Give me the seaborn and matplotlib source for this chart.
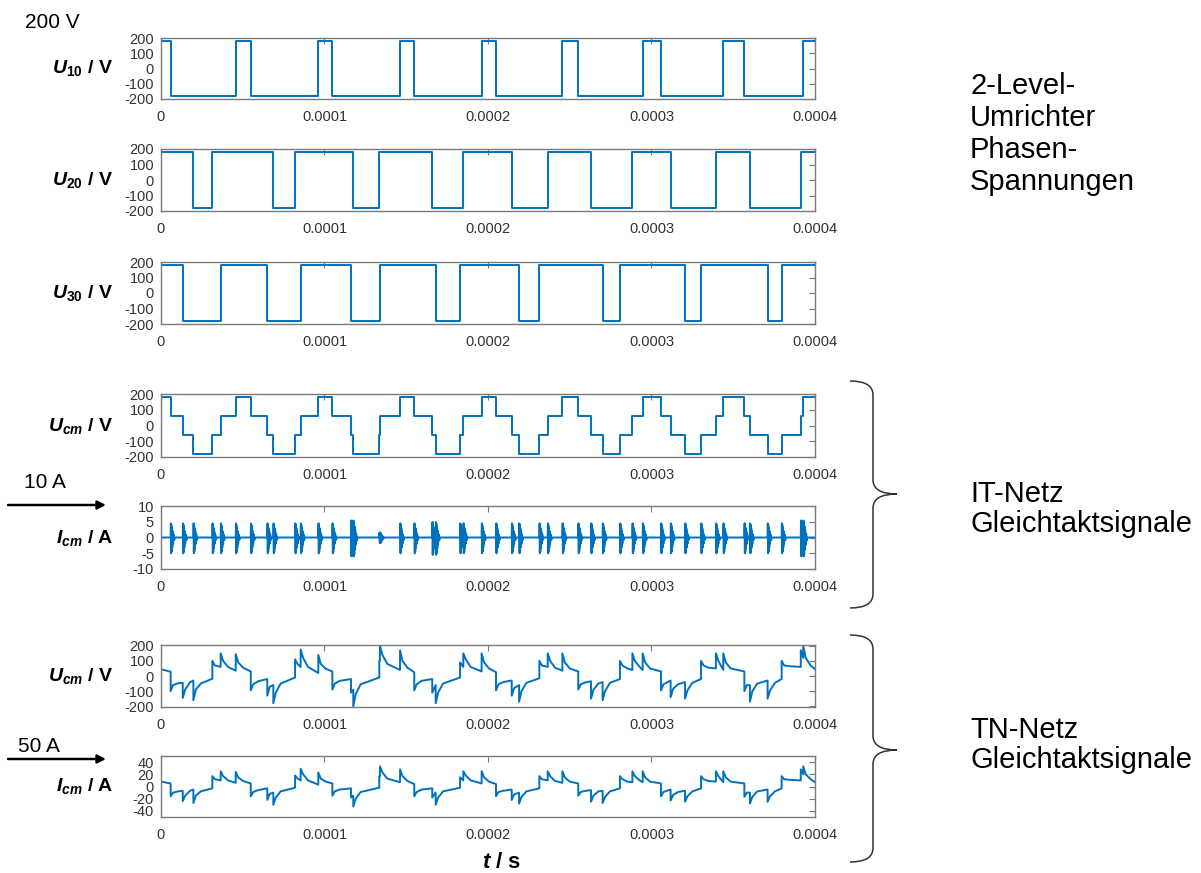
import numpy as np
import pandas as pd
import matplotlib
matplotlib.use("Agg")
import matplotlib.pyplot as plt
import seaborn as sns
from matplotlib.path import Path
from matplotlib.patches import PathPatch

sns.set_theme(style="white")
plt.rcParams['font.family'] = ['Liberation Sans', 'DejaVu Sans']
plt.rcParams['text.color'] = 'black'
plt.rcParams['mathtext.fontset'] = 'custom'
plt.rcParams['mathtext.it'] = 'Liberation Sans:italic:bold'
plt.rcParams['mathtext.rm'] = 'Liberation Sans:bold'
plt.rcParams['mathtext.bf'] = 'Liberation Sans:bold'

BLUE = '#0072BD'
FRAME = '#7a7a7a'
T_END = 400.0   # µs

# phase voltages: level +-180 V, switching instants in µs (start level high)
u_level = 180
u10_edges = [5.9, 45.7, 54.9, 96.2, 104.8, 146.2, 154.9, 196.1, 204.9, 245.5,
             255.2, 294.6, 305.8, 343.9, 356.8, 392.8]
u20_edges = [19.8, 31.4, 68.7, 82.0, 117.6, 133.5, 165.9, 184.9, 214.5, 236.5,
             263.0, 288.3, 311.7, 339.4, 360.2, 391.3]
u30_edges = [13.3, 36.5, 65.0, 85.4, 116.2, 133.9, 168.0, 182.9, 219.0, 231.4,
             270.1, 280.7, 320.5, 330.3, 371.0, 379.6]

# IT-Netz common mode current: ringing burst read from one event, amplitude per event
burst_dt = [0, 0.15, 0.3, 0.45, 0.6, 0.8, 1.0, 1.2, 1.5, 1.8, 2.2, 2.6]
burst_val = [0, 4.5, -5.0, 4.0, -4.5, 3.0, -3.2, 2.0, -2.0, 1.0, -0.8, 0]
it_amp = [1.0, 1.0, 1.0, 1.0, 1.0, 1.0,
          1.0, 1.0, 1.0, 1.0, 1.0, 1.0,
          1.0, 1.2, 1.2, 0.35, 0.35, 1.0,
          1.0, 1.1, 1.1, 1.0, 1.0, 1.0,
          1.0, 1.0, 1.0, 1.0, 1.0, 1.0,
          1.0, 1.0, 1.0, 1.0, 1.0, 1.0,
          1.0, 1.0, 1.0, 1.0, 1.0, 1.0,
          1.0, 1.0, 1.0, 1.0, 1.2, 1.2]

# TN-Netz common mode voltage: value before / after each switching event,
# then ~1.5 µs and ~4.5 µs later
tn_u0, tn_u_last = 45, 45
tn_u_pre = [28, -45, -30, -18, 60, 35,
            30, -20, -60, -10, 60, 20,
            30, -20, -90, -10, 100, 40,
            25, -20, -60, -10, 60, 30,
            25, -30, -60, -15, 60, 35,
            30, -35, -40, -20, 40, 40,
            30, -30, -40, -20, 50, 40,
            30, -60, -30, -20, 60, 120]
tn_u_post = [-100, -145, -160, 100, 150, 145,
             -95, -130, -180, 110, 175, 140,
             -90, -110, -200, 100, 200, 170,
             -95, -110, -180, 90, 150, 150,
             -95, -130, -170, 100, 150, 150,
             -90, -150, -160, 100, 150, 150,
             -95, -140, -150, 100, 150, 150,
             -100, -170, -150, 100, 170, 200]
tn_u_knee = [-60, -90, -90, 70, 100, 90,
             -55, -70, -110, 80, 120, 80,
             -50, -90, -120, 100, 140, 100,
             -55, -70, -110, 60, 110, 90,
             -55, -80, -100, 70, 100, 90,
             -55, -90, -100, 70, 100, 90,
             -55, -85, -95, 70, 100, 90,
             -60, -100, -95, 70, 120, 120]
tn_u_knee2 = [-48, -40, -50, 62, 60, 55,
              -35, -60, -50, 60, 60, 48,
              -32, -100, -55, 100, 80, 55,
              -32, -60, -50, 60, 60, 50,
              -40, -65, -45, 62, 55, 50,
              -42, -50, -45, 50, 60, 50,
              -38, -55, -45, 55, 60, 50,
              -60, -50, -45, 65, 120, 70]

# TN-Netz common mode current
tn_i0, tn_i_last = 8, 7
tn_i_pre = [5, -7, -5, -3, 10, 6,
            5, -3, -10, -2, 10, 3,
            5, -3, -15, -2, 17, 7,
            4, -3, -10, -2, 10, 5,
            4, -5, -10, -3, 10, 6,
            5, -6, -7, -3, 7, 7,
            5, -5, -7, -3, 8, 7,
            5, -10, -5, -3, 10, 20]
tn_i_post = [-16, -24, -27, 17, 25, 24,
             -16, -22, -30, 18, 29, 23,
             -15, -18, -33, 17, 33, 28,
             -16, -18, -30, 15, 25, 25,
             -16, -22, -28, 17, 25, 25,
             -15, -25, -27, 17, 25, 25,
             -16, -23, -25, 17, 25, 25,
             -17, -28, -25, 17, 28, 33]
tn_i_knee = [-10, -15, -15, 12, 17, 15,
             -9, -12, -18, 13, 20, 13,
             -8, -15, -20, 17, 23, 17,
             -9, -12, -18, 10, 18, 15,
             -9, -13, -17, 12, 17, 15,
             -9, -15, -17, 12, 17, 15,
             -9, -14, -16, 12, 17, 15,
             -10, -17, -16, 12, 20, 20]
tn_i_knee2 = [-8, -7, -8, 10, 10, 9,
              -6, -10, -8, 10, 10, 8,
              -5, -17, -9, 17, 13, 9,
              -5, -10, -8, 10, 10, 8,
              -7, -11, -8, 10, 9, 8,
              -7, -8, -8, 8, 10, 8,
              -6, -9, -8, 9, 10, 8,
              -10, -8, -8, 11, 20, 12]

x_ticks = [0, 1e-4, 2e-4, 3e-4, 4e-4]
x_ticklabels = ['0', '0.0001', '0.0002', '0.0003', '0.0004']


def phase_signal(edges):
    t = [0.0] + list(edges)
    v = [u_level * (1 if k % 2 == 0 else -1) for k in range(len(t))]
    return t, v


def level_at(edges, tt):
    n = sum(1 for e in edges if e <= tt)
    return u_level * (1 if n % 2 == 0 else -1)


events = sorted(u10_edges + u20_edges + u30_edges)

# phase and IT common-mode voltage
phases = [phase_signal(e) for e in (u10_edges, u20_edges, u30_edges)]
cm_t = [0.0] + events
cm_v = [np.mean([level_at(e, tt) for e in (u10_edges, u20_edges, u30_edges)]) for tt in cm_t]

# IT common-mode current
it_t, it_v = [0.0], [0.0]
for e, a in zip(events, it_amp):
    it_t += [e + d for d in burst_dt]
    it_v += [a * b for b in burst_val]
it_t.append(T_END)
it_v.append(0.0)


def tn_points(v0, pre, post, knee, knee2, v_last):
    ts, vs = [0.0], [v0]
    for i, e in enumerate(events):
        ts += [e, e]
        vs += [pre[i], post[i]]
        nxt = events[i + 1] if i + 1 < len(events) else T_END
        if nxt - e > 3:
            ts.append(e + 1.5)
            vs.append(knee[i])
        if nxt - e > 6:
            ts.append(e + 4.5)
            vs.append(knee2[i])
    ts.append(T_END)
    vs.append(v_last)
    return ts, vs


tnu_t, tnu_v = tn_points(tn_u0, tn_u_pre, tn_u_post, tn_u_knee, tn_u_knee2, tn_u_last)
tni_t, tni_v = tn_points(tn_i0, tn_i_pre, tn_i_post, tn_i_knee, tn_i_knee2, tn_i_last)

W, H = 1201, 873
fig = plt.figure(figsize=(W / 100, H / 100), dpi=100)

panels = [
    (38, 99, phases[0], 'steps-post', (-200, 200), [200, 100, 0, -100, -200], r'$\mathit{U}_{\mathit{10}}$ / V'),
    (149, 211, phases[1], 'steps-post', (-200, 200), [200, 100, 0, -100, -200], r'$\mathit{U}_{\mathit{20}}$ / V'),
    (262, 324, phases[2], 'steps-post', (-200, 200), [200, 100, 0, -100, -200], r'$\mathit{U}_{\mathit{30}}$ / V'),
    (394, 457, (cm_t, cm_v), 'steps-post', (-200, 200), [200, 100, 0, -100, -200], r'$\mathit{U}_{\mathit{cm}}$ / V'),
    (506, 569, (it_t, it_v), 'default', (-10, 10), [10, 5, 0, -5, -10], r'$\mathit{I}_{\mathit{cm}}$ / A'),
    (645, 707, (tnu_t, tnu_v), 'default', (-205, 205), [200, 100, 0, -100, -200], r'$\mathit{U}_{\mathit{cm}}$ / V'),
    (756, 817, (tni_t, tni_v), 'default', (-50, 50), [40, 20, 0, -20, -40], r'$\mathit{I}_{\mathit{cm}}$ / A'),
]

x0, x1 = 161, 815
for top, bot, (t, v), ds, ylim, yt, lab in panels:
    ax = fig.add_axes([x0 / W, 1 - bot / H, (x1 - x0) / W, (bot - top) / H])
    t_s = np.asarray(t, dtype=float)
    v_a = np.asarray(v, dtype=float)
    if ds == 'steps-post':
        t_s = np.append(t_s, T_END)
        v_a = np.append(v_a, v_a[-1])
    df = pd.DataFrame({'t': t_s * 1e-6, 'v': v_a})
    sns.lineplot(data=df, x='t', y='v', ax=ax, sort=False, estimator=None,
                 color=BLUE, lw=1.4, drawstyle=ds)
    ax.set_xlim(0, 4e-4)
    ax.set_ylim(*ylim)
    ax.set_xticks(x_ticks)
    ax.set_xticklabels(x_ticklabels)
    ax.set_yticks(yt)
    ax.set_yticklabels([str(y) for y in yt])
    ax.set_xlabel('')
    ax.set_ylabel('')
    ax.tick_params(direction='in', top=True, right=True, length=4, width=0.8,
                   color=FRAME, labelcolor='#333333', labelsize=10.5)
    ax.tick_params(axis='x', pad=8)
    ax.tick_params(axis='y', pad=5)
    for s in ax.spines.values():
        s.set_color(FRAME)
        s.set_linewidth(1.0)
    fig.text(113 / W, 1 - (top + bot) / 2 / H, lab, ha='right', va='center',
             fontsize=14, fontweight='bold', color='black')

# overlay for annotations in pixel coordinates
ov = fig.add_axes([0, 0, 1, 1], zorder=-1)
ov.set_xlim(0, W)
ov.set_ylim(H, 0)
ov.axis('off')

ov.text(25, 22, '200 V', fontsize=15, va='center', ha='left')
ov.text(24, 483, '10 A', fontsize=15, va='center', ha='left')
ov.text(18, 746, '50 A', fontsize=15, va='center', ha='left')
for y in (505, 759):
    ov.annotate('', xy=(106, y), xytext=(8, y),
                arrowprops=dict(arrowstyle='-|>', color='black', lw=1.8,
                                mutation_scale=12, shrinkA=0, shrinkB=0))

ov.text(970, 134, '2-Level-\nUmrichter\nPhasen-\nSpannungen', fontsize=21,
        va='center', ha='left', linespacing=1.17)
ov.text(970, 509, 'IT-Netz\nGleichtaktsignale', fontsize=21, va='center',
        ha='left', linespacing=1.12)
ov.text(970, 745, 'TN-Netz\nGleichtaktsignale', fontsize=21, va='center',
        ha='left', linespacing=1.12)


def brace(y_top, y_bot, y_tip):
    xa, xb, xc = 850, 873, 897
    verts = [(xa, y_top), (xb, y_top), (xb, y_top + 14),
             (xb, y_tip - 14), (xb, y_tip), (xc, y_tip),
             (xb, y_tip), (xb, y_tip + 14),
             (xb, y_bot - 14), (xb, y_bot), (xa, y_bot)]
    codes = [Path.MOVETO, Path.CURVE3, Path.CURVE3,
             Path.LINETO, Path.CURVE3, Path.CURVE3,
             Path.CURVE3, Path.CURVE3,
             Path.LINETO, Path.CURVE3, Path.CURVE3]
    ov.add_patch(PathPatch(Path(verts, codes), fill=False, ec='#333333', lw=1.1))


brace(381, 608, 494)
brace(635, 862, 750)

ov.text(502, 863, r'$\mathit{t}$ / s', fontsize=16, fontweight='bold',
        ha='center', va='center')

fig.savefig('out.png', dpi=100)
